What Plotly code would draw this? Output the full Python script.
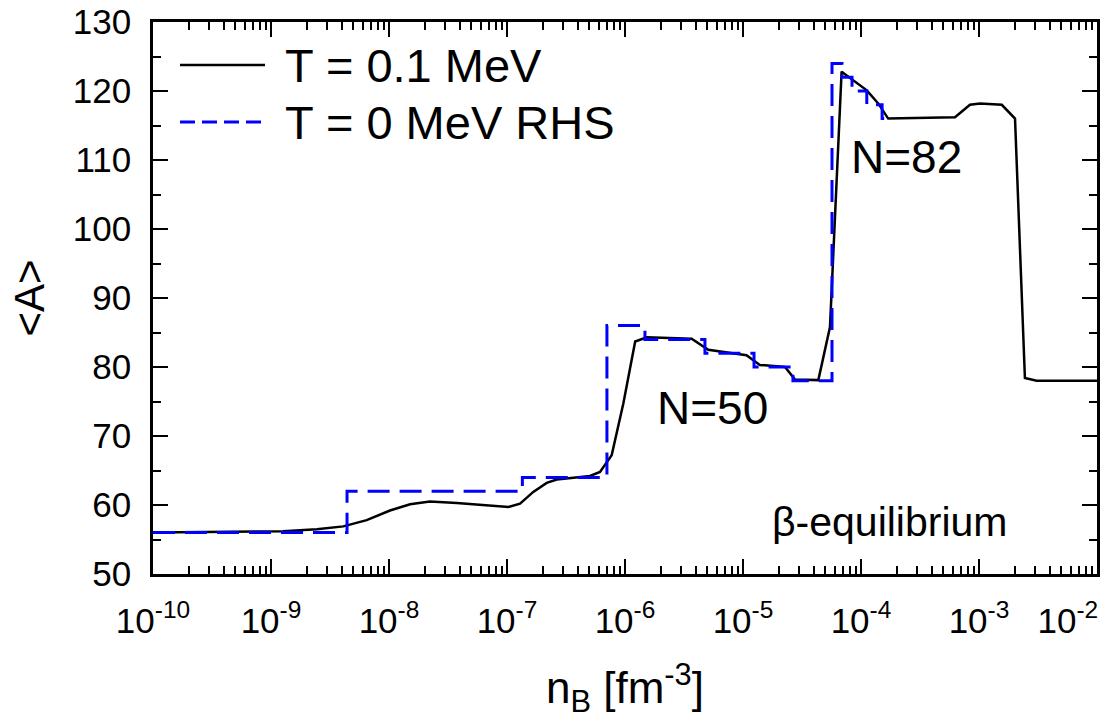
import plotly.graph_objects as go

# ---- data ----
# T = 0.1 MeV (black solid)
nb_T01 = [1e-10, 1.265e-9, 2.44e-9, 4.10e-9, 6.47e-9, 1.02e-8, 1.51e-8, 2.22e-8, 3.75e-8,
          6.30e-8, 1.03e-7, 1.29e-7, 1.67e-7, 2.17e-7, 2.64e-7, 5.05e-7, 6.14e-7, 7.71e-7,
          9.68e-7, 1.22e-6, 1.53e-6, 3.67e-6, 5.08e-6, 1.07e-5, 1.39e-5, 2.27e-5, 2.76e-5,
          4.35e-5, 5.46e-5, 6.85e-5, 8.61e-5, 1.12e-4, 1.40e-4, 1.70e-4, 6.26e-4, 8.39e-4,
          1.02e-3, 1.56e-3, 2.02e-3, 2.45e-3, 3.08e-3, 1e-2]
A_T01 = [56.0, 56.2, 56.5, 56.9, 57.8, 59.2, 60.1, 60.5, 60.3,
         60.0, 59.7, 60.2, 61.9, 63.2, 63.7, 64.2, 64.8, 67.2,
         74.7, 83.7, 84.3, 84.1, 82.5, 81.7, 80.3, 80.0, 78.2,
         78.1, 85.8, 122.8, 121.6, 120.1, 118.2, 116.0, 116.2, 118.0,
         118.2, 118.0, 116.0, 78.4, 78.0, 78.0]

# T = 0 MeV RHS (blue dashed, step function: value holds from each n_B to the next)
nb_T0 = [1e-10, 4.41e-9, 1.35e-7, 7.03e-7, 1.476e-6, 4.76e-6, 1.24e-5, 2.65e-5,
         5.68e-5, 6.90e-5, 8.39e-5, 1.12e-4, 1.51e-4, 1.69e-4]
A_T0 = [56, 62, 64, 86, 84, 82, 80, 78, 124, 122, 120, 118, 116, 116]

x_tickvals = [1e-10, 1e-9, 1e-8, 1e-7, 1e-6, 1e-5, 1e-4, 1e-3, 1e-2]
x_ticktext = ["10<sup>-10</sup>", "10<sup>-9</sup>", "10<sup>-8</sup>", "10<sup>-7</sup>",
              "10<sup>-6</sup>", "10<sup>-5</sup>", "10<sup>-4</sup>", "10<sup>-3</sup>",
              "10<sup>-2</sup>&nbsp;&nbsp;&nbsp;&nbsp;&nbsp;&nbsp;"]
y_tickvals = [50, 60, 70, 80, 90, 100, 110, 120, 130]

series_names = ["T = 0.1 MeV", "T = 0 MeV RHS"]

FONT = "Liberation Sans, Arial, sans-serif"
BLUE = "#0000ff"

fig = go.Figure()
fig.add_trace(go.Scatter(x=nb_T01, y=A_T01, mode="lines", name=series_names[0],
                         line=dict(color="black", width=2.5), showlegend=False))
fig.add_trace(go.Scatter(x=nb_T0, y=A_T0, mode="lines", name=series_names[1],
                         line=dict(color=BLUE, width=3, dash="22px,10px", shape="hv"),
                         showlegend=False))

# manual legend (line samples + labels), placed in paper coordinates
L, R, T, B = 153, 1097, 22, 574
W, H = R - L, B - T
def px(x):
    return (x - L) / W
def py(y):
    return (B - y) / H

fig.add_shape(type="line", xref="paper", yref="paper", x0=px(180), x1=px(265), y0=py(65), y1=py(65),
              line=dict(color="black", width=2.5))
fig.add_shape(type="line", xref="paper", yref="paper", x0=px(180), x1=px(265), y0=py(122), y1=py(122),
              line=dict(color=BLUE, width=3, dash="15px,7px"))
fig.add_annotation(xref="paper", yref="paper", x=px(283), y=py(65), text=series_names[0],
                   showarrow=False, xanchor="left", yanchor="middle",
                   font=dict(family=FONT, size=47, color="black"))
fig.add_annotation(xref="paper", yref="paper", x=px(283), y=py(122), text=series_names[1],
                   showarrow=False, xanchor="left", yanchor="middle",
                   font=dict(family=FONT, size=47, color="black"))

fig.add_annotation(xref="paper", yref="paper", x=px(712), y=py(408), text="N=50",
                   showarrow=False, xanchor="center", yanchor="middle",
                   font=dict(family=FONT, size=46, color="black"))
fig.add_annotation(xref="paper", yref="paper", x=px(906), y=py(157), text="N=82",
                   showarrow=False, xanchor="center", yanchor="middle",
                   font=dict(family=FONT, size=46, color="black"))
fig.add_annotation(xref="paper", yref="paper", x=px(890), y=py(522), text="β-equilibrium",
                   showarrow=False, xanchor="center", yanchor="middle",
                   font=dict(family=FONT, size=41, color="black"))

axis_common = dict(showline=True, linecolor="black", linewidth=2.5, mirror="allticks",
                   ticks="inside", ticklen=15, tickwidth=2, tickcolor="black",
                   showgrid=False, zeroline=False, automargin=False,
                   ticklabeloverflow="allow",
                   tickfont=dict(family=FONT, size=35, color="black"))

fig.update_xaxes(type="log", range=[-10, -1.9999], tickmode="array", tickvals=x_tickvals,
                 ticktext=x_ticktext, ticklabelstandoff=14,
                 minor=dict(ticks="inside", ticklen=8, tickwidth=1.5, tickcolor="black",
                            dtick="D1", showgrid=False),
                 title=dict(text="n<sub>B</sub> [fm<sup>-3</sup>]",
                            font=dict(family=FONT, size=44, color="black"), standoff=34),
                 **axis_common)
fig.update_yaxes(range=[50, 130], tickmode="array", tickvals=y_tickvals, ticklabelstandoff=12,
                 minor=dict(ticks="inside", ticklen=8, tickwidth=1.5, tickcolor="black",
                            dtick=5, showgrid=False),
                 title=dict(text="&lt;A&gt;", font=dict(family=FONT, size=42, color="black"),
                            standoff=16),
                 **axis_common)

fig.update_layout(width=1104, height=726, plot_bgcolor="white", paper_bgcolor="white",
                  margin=dict(l=L, r=1104 - R, t=T, b=726 - B),
                  showlegend=False)

fig.write_html("out.html")
